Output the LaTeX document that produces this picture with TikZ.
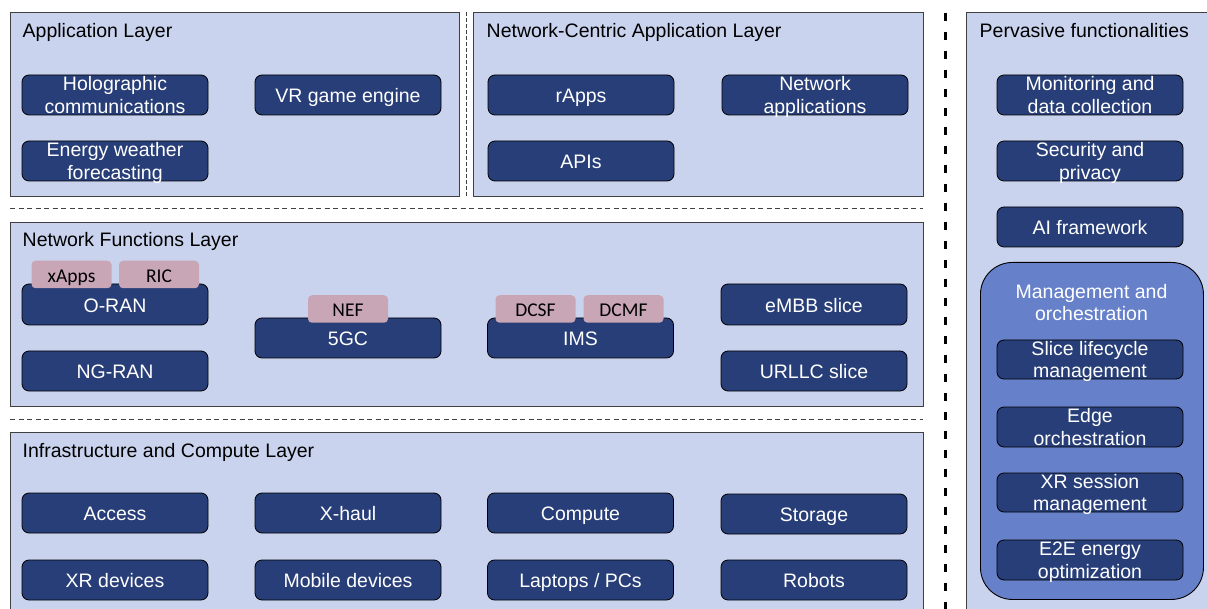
\documentclass[tikz,border=0pt]{standalone}
\usepackage{fontspec}
\setmainfont{Liberation Sans}
\newfontfamily\calibfont{Carlito}
\definecolor{layerfill}{HTML}{CAD3EE}
\definecolor{boxfill}{HTML}{283E78}
\definecolor{pinkfill}{HTML}{C9A6B5}
\definecolor{mgmtfill}{HTML}{6681CA}
\definecolor{edgegray}{HTML}{404040}
\newcommand\sstrut{\rule[-3.5pt]{0pt}{22.5pt}}
\newcommand\fstrut{\rule[-4.5pt]{0pt}{22.9pt}}
\newcommand\lstrut{\rule[-4.5pt]{0pt}{4.5pt}}
\begin{document}
\begin{tikzpicture}[x=1pt,y=-1pt,
  layer/.style={draw=edgegray, line width=1.2pt, fill=layerfill, inner sep=0pt, anchor=north west},
  ttl/.style={anchor=base west, inner sep=0pt, font=\fontsize{19.5}{22.5}\selectfont},
  darkbox/.style={draw=black, line width=0.8pt, fill=boxfill, rounded corners=7pt, text=white,
    minimum width=186pt, minimum height=40pt, inner sep=0pt, align=center,
    font=\fontsize{19.5}{22.5}\selectfont},
  oneline/.style={darkbox, execute at begin node={\sstrut}},
  twoline/.style={darkbox, inner ysep=-4pt},
  pinkbox/.style={fill=pinkfill, rounded corners=4pt, minimum width=80pt, minimum height=27.5pt,
    inner sep=0pt, text height=15.5pt, text depth=0pt, font=\calibfont\fontsize{19.5}{22}\selectfont},
  sep/.style={draw=edgegray, line width=1pt, dash pattern=on 5pt off 3.5pt},
  bigsep/.style={draw=black, line width=3pt, dash pattern=on 8pt off 11pt}
]
\clip (0,0) rectangle (1207,609);
\fill[white] (0,0) rectangle (1207,609);

% layer panels
\node[layer, minimum width=449pt, minimum height=184pt] (applayer) at (10,12) {};
\node[layer, minimum width=450pt, minimum height=184pt] (nclayer) at (473,12) {};
\node[layer, minimum width=913pt, minimum height=184pt] (nflayer) at (10,222) {};
\node[layer, minimum width=913pt, minimum height=200pt] (infralayer) at (10,432) {};
\node[layer, minimum width=260pt, minimum height=610pt] (pervlayer) at (966,12) {};

% separators
\coordinate (v1a) at (466.5,12);
\coordinate (v1b) at (466.5,196);
\draw[sep, dash pattern=on 4pt off 2pt] (v1a) -- (v1b);
\coordinate (h1a) at (10,209);
\coordinate (h1b) at (923,209);
\draw[sep] (h1a) -- (h1b);
\coordinate (h2a) at (10,419);
\coordinate (h2b) at (923,419);
\draw[sep] (h2a) -- (h2b);
\coordinate (bva) at (945,13);
\coordinate (bvb) at (945,612);
\draw[bigsep] (bva) -- (bvb);

% titles
\node[ttl] (apptitle) at (22.5,37.5) {Application Layer};
\node[ttl] (nctitle) at (486.5,37.5) {Network-Centric Application Layer};
\node[ttl] (nftitle) at (22.5,247) {Network Functions Layer};
\node[ttl] (infratitle) at (22.5,457.5) {Infrastructure and Compute Layer};
\node[ttl] (pervtitle) at (979.5,38) {Pervasive functionalities};

% Application layer
\node[twoline] (holo) at (115,95) {\fstrut Holographic\\communications\lstrut};
\node[oneline] (vrge) at (348,95) {VR game engine};
\node[twoline] (energyw) at (115,161) {\fstrut Energy weather\\forecasting\lstrut};

% Network-centric application layer
\node[oneline] (rapps) at (581,95) {rApps};
\node[twoline] (netapps) at (815,95) {\fstrut Network\\applications\lstrut};
\node[oneline] (apis) at (581,161) {APIs};

% Network functions layer
\node[oneline, minimum height=41pt] (oran) at (115,304.5) {O-RAN};
\node[oneline] (ngran) at (115,371) {NG-RAN};
\node[oneline] (fivegc) at (348,338) {5GC};
\node[oneline] (ims) at (580.5,338) {IMS};
\node[oneline, minimum height=41pt] (embb) at (814,304.5) {eMBB slice};
\node[oneline] (urllc) at (814,371) {URLLC slice};
\node[pinkbox] (xapps) at (71.5,274.5) {xApps};
\node[pinkbox] (ric) at (159,274.5) {RIC};
\node[pinkbox] (nef) at (348,309) {NEF};
\node[pinkbox] (dcsf) at (535.5,309) {DCSF};
\node[pinkbox] (dcmf) at (623.5,309) {DCMF};

% Infrastructure and compute layer
\node[oneline] (access) at (115,513) {Access};
\node[oneline] (xhaul) at (348,513) {X-haul};
\node[oneline] (compute) at (580.5,513) {Compute};
\node[oneline] (storage) at (814,514) {Storage};
\node[oneline] (xrdev) at (115,580) {XR devices};
\node[oneline] (mobdev) at (348,580) {Mobile devices};
\node[oneline] (laptops) at (580.5,580) {Laptops / PCs};
\node[oneline] (robots) at (814,580) {Robots};

% Pervasive functionalities
\node[twoline] (monitor) at (1090,95) {\fstrut Monitoring and\\data collection\lstrut};
\node[twoline] (secpriv) at (1090,161) {\fstrut Security and\\privacy\lstrut};
\node[oneline] (aifw) at (1090,227) {AI framework};
\node[draw=black, line width=0.9pt, fill=mgmtfill, rounded corners=32pt, inner sep=0pt,
  minimum width=223pt, minimum height=337pt, anchor=north west] (mgmt) at (980,262) {};
\node[anchor=north, inner sep=0pt, text=white, align=center, font=\fontsize{19.5}{22}\selectfont]
  (mgmttitle) at (1091.5,280) {\fstrut Management and\\orchestration\lstrut};
\node[twoline, minimum height=39pt] (slicelc) at (1090,359.5) {\fstrut Slice lifecycle\\management\lstrut};
\node[twoline] (edgeorch) at (1090,427) {\fstrut Edge\\orchestration\lstrut};
\node[twoline, minimum height=39pt] (xrsess) at (1090,492.5) {\fstrut XR session\\management\lstrut};
\node[twoline] (e2e) at (1090,560) {\fstrut E2E energy\\optimization\lstrut};
\end{tikzpicture}
\end{document}
